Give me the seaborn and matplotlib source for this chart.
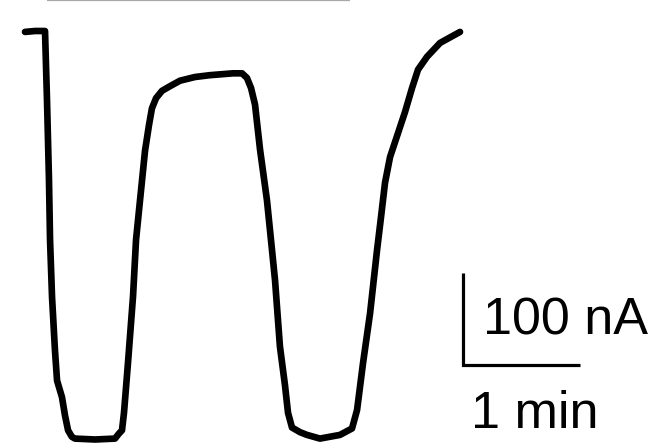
import matplotlib
matplotlib.use("Agg")
import matplotlib.pyplot as plt
import seaborn as sns
import pandas as pd

# Recorded current trace (time in min, current in nA relative to baseline)
time_min = [0.000, 0.085, 0.171, 0.188, 0.205, 0.214, 0.231, 0.256, 0.274, 0.316,
            0.342, 0.368, 0.400, 0.427, 0.598, 0.769, 0.800, 0.829, 0.846, 0.880,
            0.923, 0.949, 0.983, 1.026, 1.060, 1.085, 1.120, 1.171, 1.239, 1.325,
            1.453, 1.581, 1.778, 1.855, 1.897, 1.932, 1.966, 2.009, 2.068, 2.111,
            2.137, 2.179, 2.222, 2.248, 2.282, 2.350, 2.410, 2.521, 2.692, 2.795,
            2.838, 2.889, 2.949, 3.009, 3.043, 3.077, 3.120, 3.188, 3.248, 3.308,
            3.359, 3.436, 3.547, 3.632, 3.718]
current_nA = [-1, 0, 0, -75, -162, -227, -289, -347, -380, -398,
              -418, -434, -441, -443, -444, -443, -438, -434, -415, -361,
              -289, -227, -184, -130, -102, -84, -73, -65, -60, -54,
              -50, -48, -46, -46, -51, -62, -80, -129, -184, -238,
              -271, -343, -385, -415, -431, -436, -439, -443, -439, -432,
              -412, -361, -307, -238, -202, -165, -137, -111, -88, -62,
              -42, -28, -13, -7, -1]

# Application bar and scale bar
bar_start, bar_end, bar_level = 0.188, 2.778, 33.2
scale_x0, scale_y0 = 3.744, -363
scale_time, scale_current = 1.0, 100
scale_labels = ["100 nA", "1 min"]

df = pd.DataFrame({"time": time_min, "current": current_nA})

sns.set_theme(style="white")
plt.rcParams["font.family"] = ["Liberation Sans", "DejaVu Sans"]

fig = plt.figure(figsize=(6.54, 4.43), dpi=100)
ax = fig.add_axes([0, 0, 1, 1])

sns.lineplot(data=df, x="time", y="current", sort=False, estimator=None,
             color="black", linewidth=4.8, solid_joinstyle="round",
             solid_capstyle="round", ax=ax)

# stimulus bar
ax.plot([bar_start, bar_end], [bar_level, bar_level], color="#a9a9a9",
        linewidth=1.6, solid_capstyle="butt")

# scale bar
ax.plot([scale_x0, scale_x0, scale_x0 + scale_time],
        [scale_y0 + scale_current, scale_y0, scale_y0],
        color="black", linewidth=2.3, solid_joinstyle="miter",
        solid_capstyle="butt")
ax.text(3.915, -330, scale_labels[0], fontsize=37.5, ha="left",
        va="baseline", color="black")
ax.text(3.815, -431.5, scale_labels[1], fontsize=37.5, ha="left",
        va="baseline", color="black")

ax.set_xlim(-0.2137, 5.376)
ax.set_ylim(-447.8, 33.7)
ax.axis("off")

fig.savefig("out.png", dpi=100)
